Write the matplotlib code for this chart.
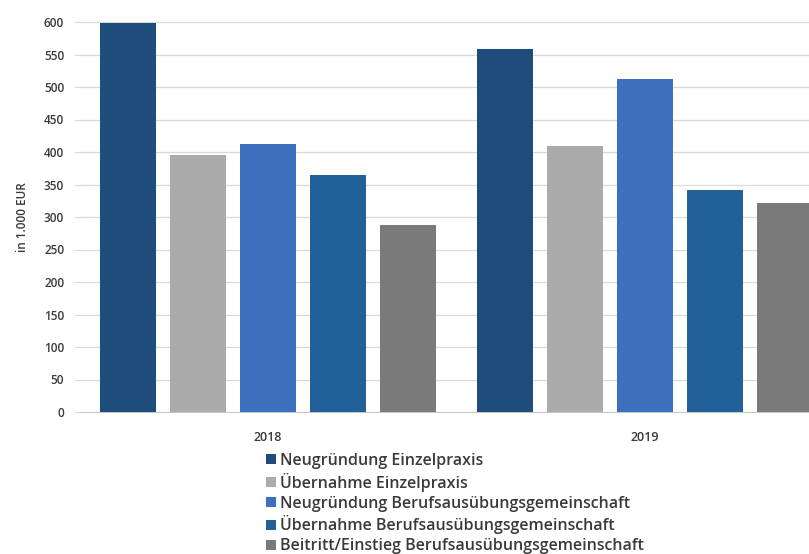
import matplotlib
matplotlib.use("Agg")
import matplotlib.pyplot as plt
import numpy as np

plt.rcParams['font.family'] = ['Open Sans', 'DejaVu Sans']

years = ["2018", "2019"]
series_names = [
    "Neugründung Einzelpraxis",
    "Übernahme Einzelpraxis",
    "Neugründung Berufsausübungsgemeinschaft",
    "Übernahme Berufsausübungsgemeinschaft",
    "Beitritt/Einstieg Berufsausübungsgemeinschaft",
]
neugruendung_ep = [598, 559]
uebernahme_ep = [395, 410]
neugruendung_bag = [412, 512]
uebernahme_bag = [364, 341]
beitritt_bag = [287, 322]
values = [neugruendung_ep, uebernahme_ep, neugruendung_bag, uebernahme_bag, beitritt_bag]
colors = ["#1e4d7b", "#ababab", "#3d70bf", "#22609a", "#7a7a7a"]
y_ticks = list(range(0, 601, 50))

text_color = "#3a3a3a"

fig = plt.figure(figsize=(8.09, 5.54), dpi=100)
ax = fig.add_axes([79.5 / 809, 1 - 412 / 554, 754 / 809, 390 / 554])

x = np.arange(len(years))
step = 0.1857
width = 0.1485
for i, (name, vals, c) in enumerate(zip(series_names, values, colors)):
    ax.bar(x + (i - 2) * step, vals, width=width, color=c, label=name, zorder=3)

ax.set_xlim(-0.5, 1.5)
ax.set_ylim(0, 600)
ax.set_yticks(y_ticks)
ax.set_xticks(x)
ax.set_xticklabels(years, fontsize=9, color=text_color, fontweight="semibold")
for lbl in ax.get_yticklabels():
    lbl.set_fontweight("semibold")
ax.tick_params(axis='y', labelsize=8.5, labelcolor=text_color, length=4, color="#d9d9d9", pad=7)
ax.tick_params(axis='x', length=0, pad=14)
ax.grid(axis='y', color="#d9d9d9", linewidth=0.9, zorder=0)
for s in ["top", "right", "left"]:
    ax.spines[s].set_visible(False)
ax.spines["bottom"].set_color("#c8c8c8")
ax.set_ylabel("in 1.000 EUR", fontsize=8.5, color=text_color, labelpad=11, fontweight="semibold")

fig.legend(loc="upper left", bbox_to_anchor=(266 / 809, 1 - 453 / 554), frameon=False,
           prop={"size": 11.5, "weight": "semibold"},
           handlelength=0.6, handleheight=0.6, handletextpad=0.3,
           labelspacing=0.24, borderpad=0, borderaxespad=0, labelcolor=text_color)

fig.savefig("out.png", dpi=100)
